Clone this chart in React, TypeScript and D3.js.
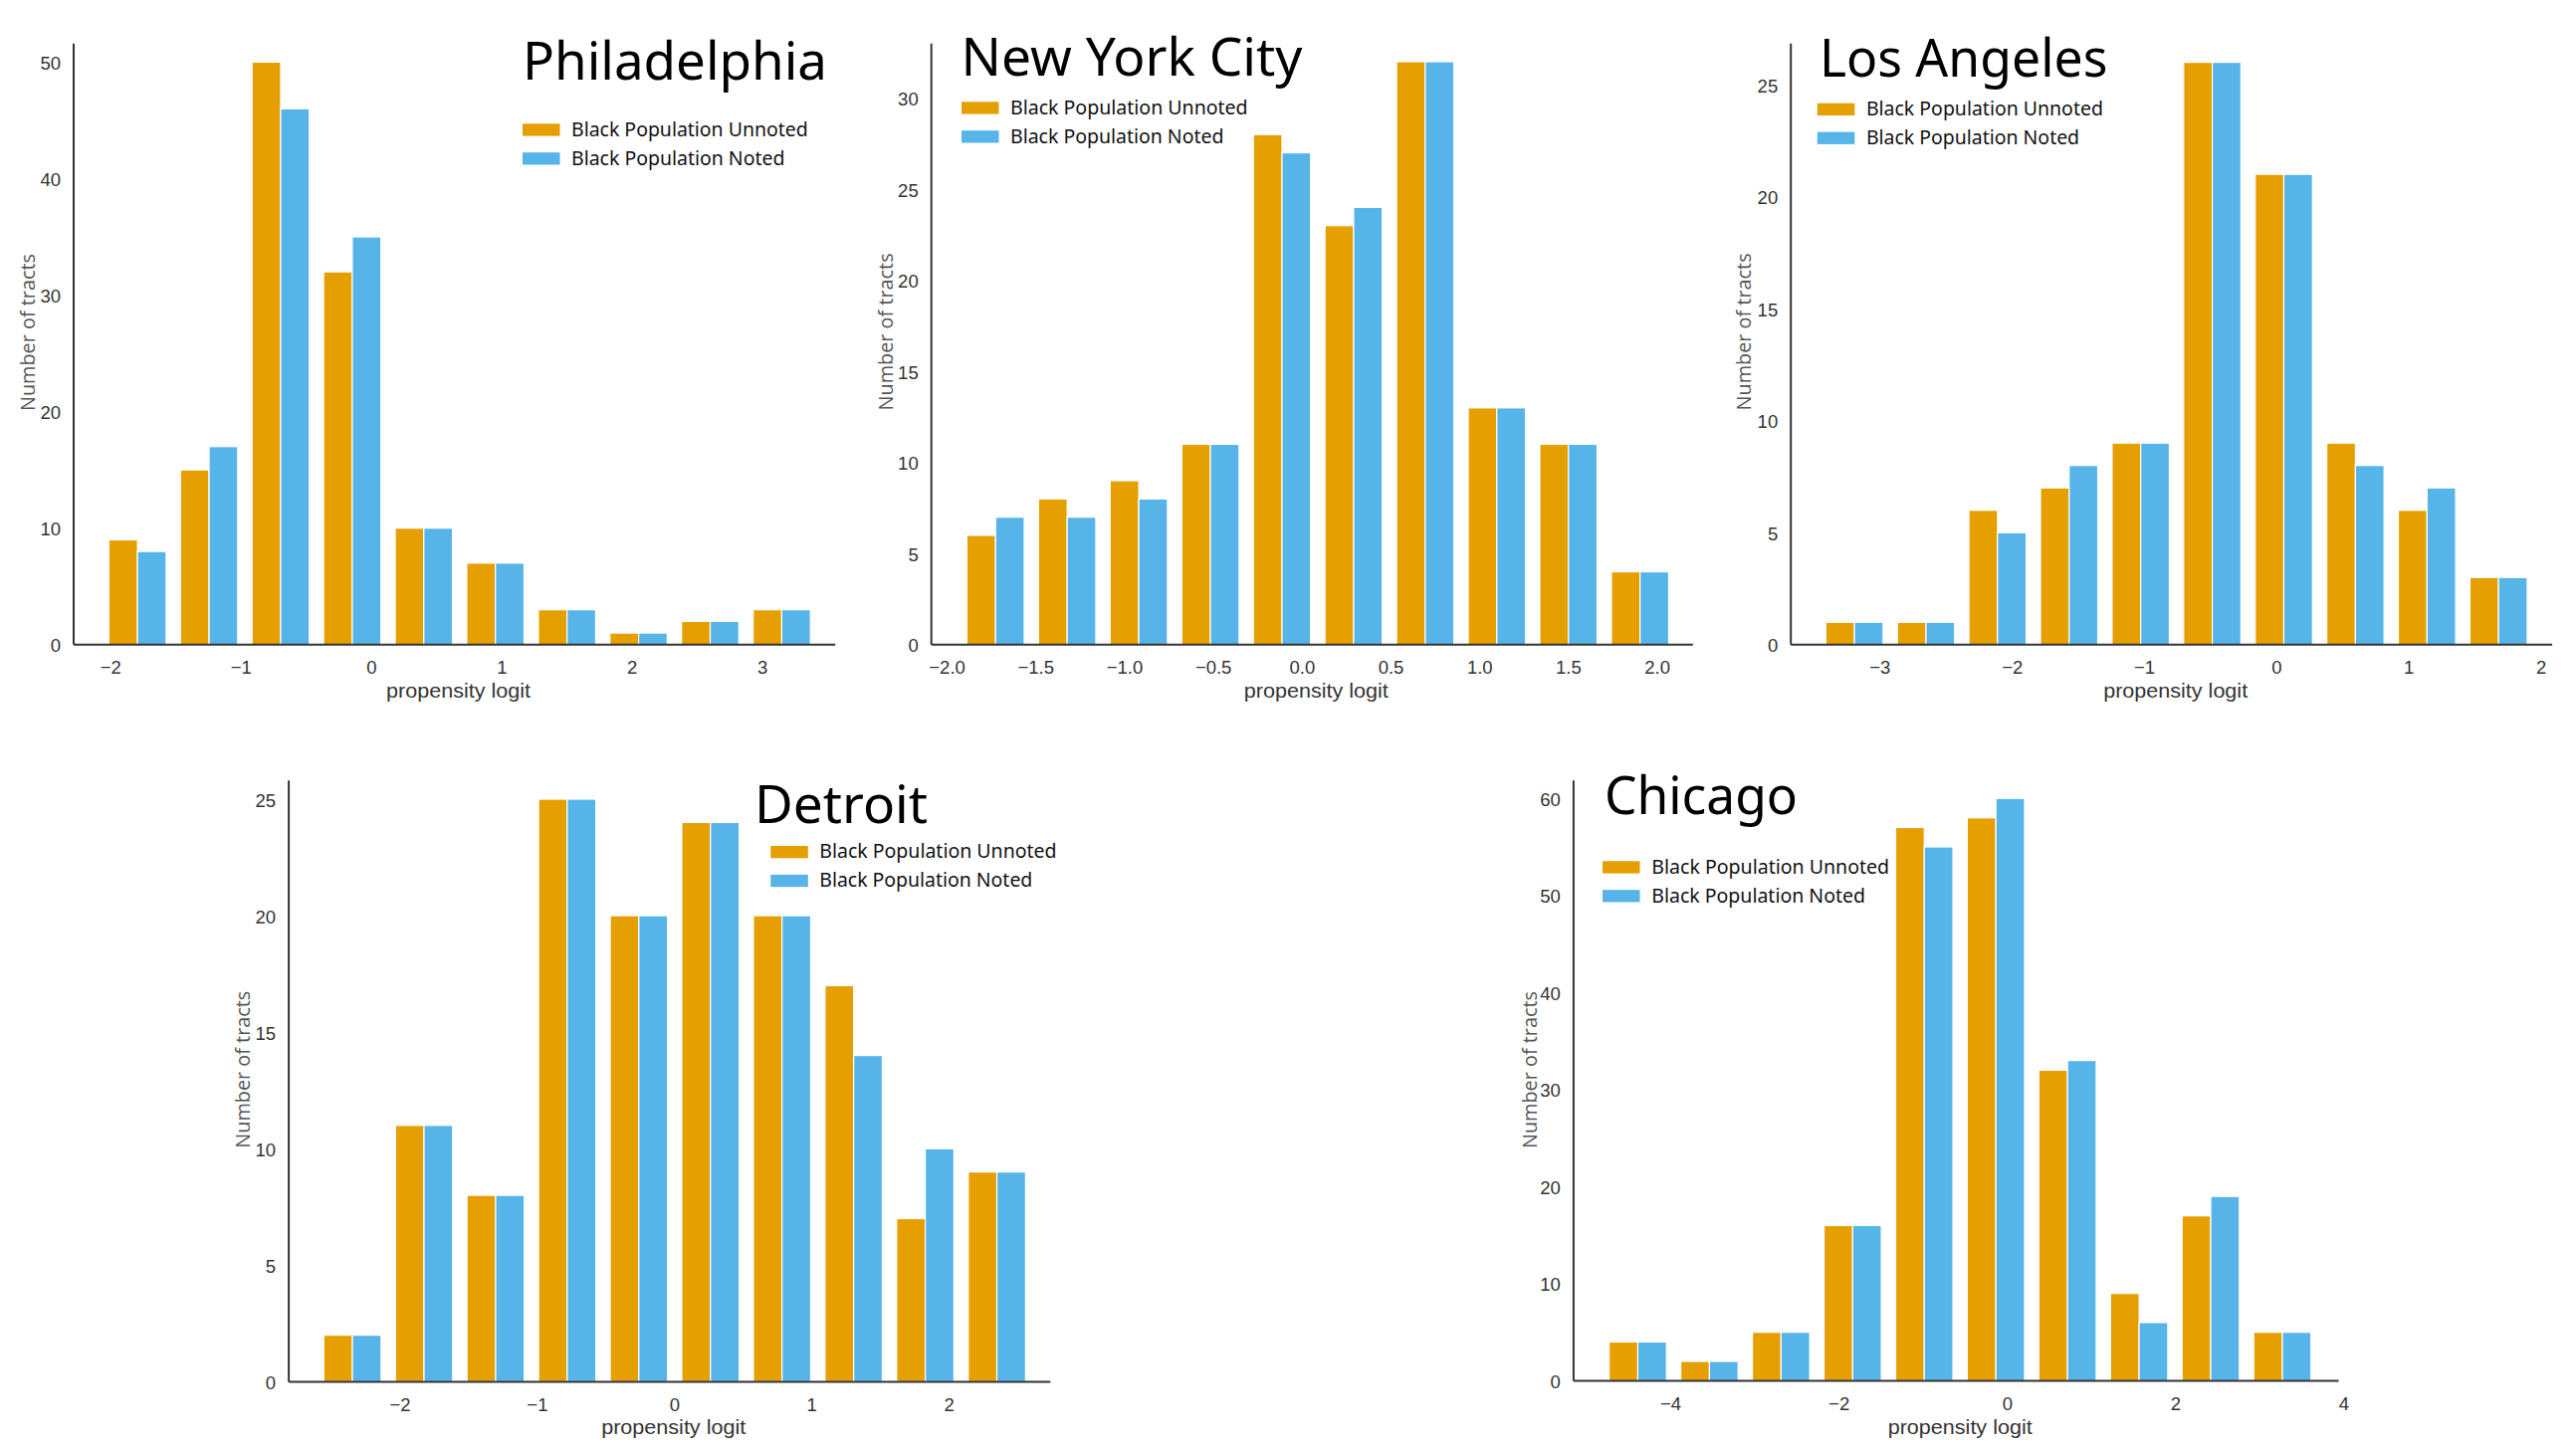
import React from 'react';
import * as d3 from 'd3';

// ---------- DATA ----------
const cities = ['Philadelphia', 'New York City', 'Los Angeles', 'Detroit', 'Chicago'];
const seriesLabels = ['Black Population Unnoted', 'Black Population Noted'];
const xLabel = 'propensity logit';
const yLabel = 'Number of tracts';

const philUnnoted = [9, 15, 50, 32, 10, 7, 3, 1, 2, 3];
const philNoted = [8, 17, 46, 35, 10, 7, 3, 1, 2, 3];
const nycUnnoted = [6, 8, 9, 11, 28, 23, 32, 13, 11, 4];
const nycNoted = [7, 7, 8, 11, 27, 24, 32, 13, 11, 4];
const laUnnoted = [1, 1, 6, 7, 9, 26, 21, 9, 6, 3];
const laNoted = [1, 1, 5, 8, 9, 26, 21, 8, 7, 3];
const detUnnoted = [2, 11, 8, 25, 20, 24, 20, 17, 7, 9];
const detNoted = [2, 11, 8, 25, 20, 24, 20, 14, 10, 9];
const chiUnnoted = [4, 2, 5, 16, 57, 58, 32, 9, 17, 5];
const chiNoted = [4, 2, 5, 16, 55, 60, 33, 6, 19, 5];

const unnotedSeries = [philUnnoted, nycUnnoted, laUnnoted, detUnnoted, chiUnnoted];
const notedSeries = [philNoted, nycNoted, laNoted, detNoted, chiNoted];

// histogram bin range (first edge, last edge) per city
const binRanges: [number, number][] = [
  [-2.07, 3.421],
  [-1.929, 2.104],
  [-3.465, 1.948],
  [-2.608, 2.608],
  [-4.817, 3.692],
];
const xDomains: [number, number][] = [
  [-2.285, 3.557],
  [-2.089, 2.2],
  [-3.675, 2.083],
  [-2.811, 2.737],
  [-5.155, 3.935],
];
const yMaxes = [51.6, 33.0, 26.84, 25.8, 61.84];
const xTicks = [
  [-2, -1, 0, 1, 2, 3],
  [-2, -1.5, -1, -0.5, 0, 0.5, 1, 1.5, 2],
  [-3, -2, -1, 0, 1, 2],
  [-2, -1, 0, 1, 2],
  [-4, -2, 0, 2, 4],
];
const xTickFormats = ['d', '.1f', 'd', 'd', 'd'];
const yTicks = [
  [0, 10, 20, 30, 40, 50],
  [0, 5, 10, 15, 20, 25, 30],
  [0, 5, 10, 15, 20, 25],
  [0, 5, 10, 15, 20, 25],
  [0, 10, 20, 30, 40, 50, 60],
];

// ---------- LAYOUT / STYLE ----------
const colors = ['#E69F00', '#56B4E9'];
const W = 2588;
const H = 1457;

const layouts = [
  { left: 74.0, right: 839.2, top: 43.7, bottom: 647.8, tX: 525, tY: 80, tW: 306, lX: 525, lY: 124.3, ltX: 574, ltW: [237.7, 214.4], ylX: 35, ylY: 334 },
  { left: 935.7, right: 1700.8, top: 43.7, bottom: 647.8, tX: 965.5, tY: 76, tW: 343, lX: 966, lY: 102.3, ltX: 1015, ltW: [238.6, 214.4], ylX: 896.8, ylY: 333.4 },
  { left: 1799.2, right: 2564.1, top: 43.7, bottom: 647.8, tX: 1827.9, tY: 77, tW: 289.5, lX: 1825.8, lY: 103.7, ltX: 1874.9, ltW: [238.0, 214.2], ylX: 1758.8, ylY: 333.4 },
  { left: 290.1, right: 1055.3, top: 784.3, bottom: 1388.4, tX: 758, tY: 826.7, tW: 174, lX: 774.3, lY: 850, ltX: 823.3, ltW: [238.2, 214.0], ylX: 251.3, ylY: 1074.7 },
  { left: 1580.9, right: 2349.5, top: 784.3, bottom: 1387.5, tX: 1612, tY: 818.3, tW: 194, lX: 1610, lY: 865.3, ltX: 1659.3, ltW: [238.8, 214.7], ylX: 1544.4, ylY: 1075.0 },
];

const tickFont = '"Liberation Sans", Arial, sans-serif';
const titleFont = '"Noto Sans", "Open Sans", sans-serif';

function Panel({ i }: { i: number }) {
  const L = layouts[i];
  const x = d3.scaleLinear().domain(xDomains[i]).range([L.left, L.right]);
  const y = d3.scaleLinear().domain([0, yMaxes[i]]).range([L.bottom, L.top]);
  const [lo, hi] = binRanges[i];
  const series = [unnotedSeries[i], notedSeries[i]];
  const n = series[0].length;
  const bw = (hi - lo) / n;
  const fmt = d3.format(xTickFormats[i]);
  const yfmt = d3.format('d');

  const rects: JSX.Element[] = [];
  series.forEach((vals, s) => {
    vals.forEach((v, k) => {
      const x0 = lo + k * bw + 0.1 * bw + s * 0.4 * bw;
      const x1 = x0 + 0.4 * bw;
      rects.push(
        <rect
          key={`${s}-${k}`}
          x={x(x0)}
          width={x(x1) - x(x0)}
          y={y(v)}
          height={y(0) - y(v)}
          fill={colors[s]}
          stroke="#ffffff"
          strokeWidth={1.2}
        />
      );
    });
  });

  return (
    <g>
      {rects}
      <line x1={L.left} x2={L.left} y1={L.top} y2={L.bottom} stroke="#333" strokeWidth={2} />
      <line x1={L.left} x2={L.right} y1={L.bottom} y2={L.bottom} stroke="#333" strokeWidth={2} />
      {yTicks[i].map((t) => (
        <text
          key={'y' + t}
          x={L.left - 13}
          y={y(t) + 7.5}
          textAnchor="end"
          fontFamily={tickFont}
          fontSize={18.5}
          fill="#333"
        >
          {yfmt(t)}
        </text>
      ))}
      {xTicks[i].map((t) => (
        <text
          key={'x' + t}
          x={x(t)}
          y={L.bottom + 29.6}
          textAnchor="middle"
          fontFamily={tickFont}
          fontSize={18.5}
          fill="#333"
        >
          {fmt(t)}
        </text>
      ))}
      <text
        x={(L.left + L.right) / 2 + 4}
        y={L.bottom + 53}
        textAnchor="middle"
        fontFamily={tickFont}
        fontSize={21}
        fill="#333"
        textLength={145}
        lengthAdjust="spacingAndGlyphs"
      >
        {xLabel}
      </text>
      <text
        transform={`translate(${L.ylX},${L.ylY}) rotate(-90)`}
        textAnchor="middle"
        fontFamily='"Open Sans", sans-serif'
        fontSize={19.5}
        fill="#555"
        textLength={158}
        lengthAdjust="spacingAndGlyphs"
      >
        {yLabel}
      </text>
      <text
        x={L.tX}
        y={L.tY}
        fontFamily={titleFont}
        fontSize={52}
        fill="#000"
        textLength={L.tW}
        lengthAdjust="spacingAndGlyphs"
      >
        {cities[i]}
      </text>
      {seriesLabels.map((lab, s) => (
        <g key={lab}>
          <rect x={L.lX} y={L.lY + s * 28.9} width={37.5} height={12.3} fill={colors[s]} />
          <text
            x={L.ltX}
            y={L.lY + s * 28.9 + 12.3}
            fontFamily={titleFont}
            fontSize={20.5}
            fill="#111"
            textLength={L.ltW[s]}
            lengthAdjust="spacingAndGlyphs"
          >
            {lab}
          </text>
        </g>
      ))}
    </g>
  );
}

export default function App() {
  return (
    <svg
      width={W}
      height={H}
      viewBox={`0 0 ${W} ${H}`}
      style={{ position: 'absolute', left: 0, top: 0, display: 'block', background: '#fff' }}
    >
      <rect x={0} y={0} width={W} height={H} fill="#fff" />
      {cities.map((c, i) => (
        <Panel key={c} i={i} />
      ))}
    </svg>
  );
}
